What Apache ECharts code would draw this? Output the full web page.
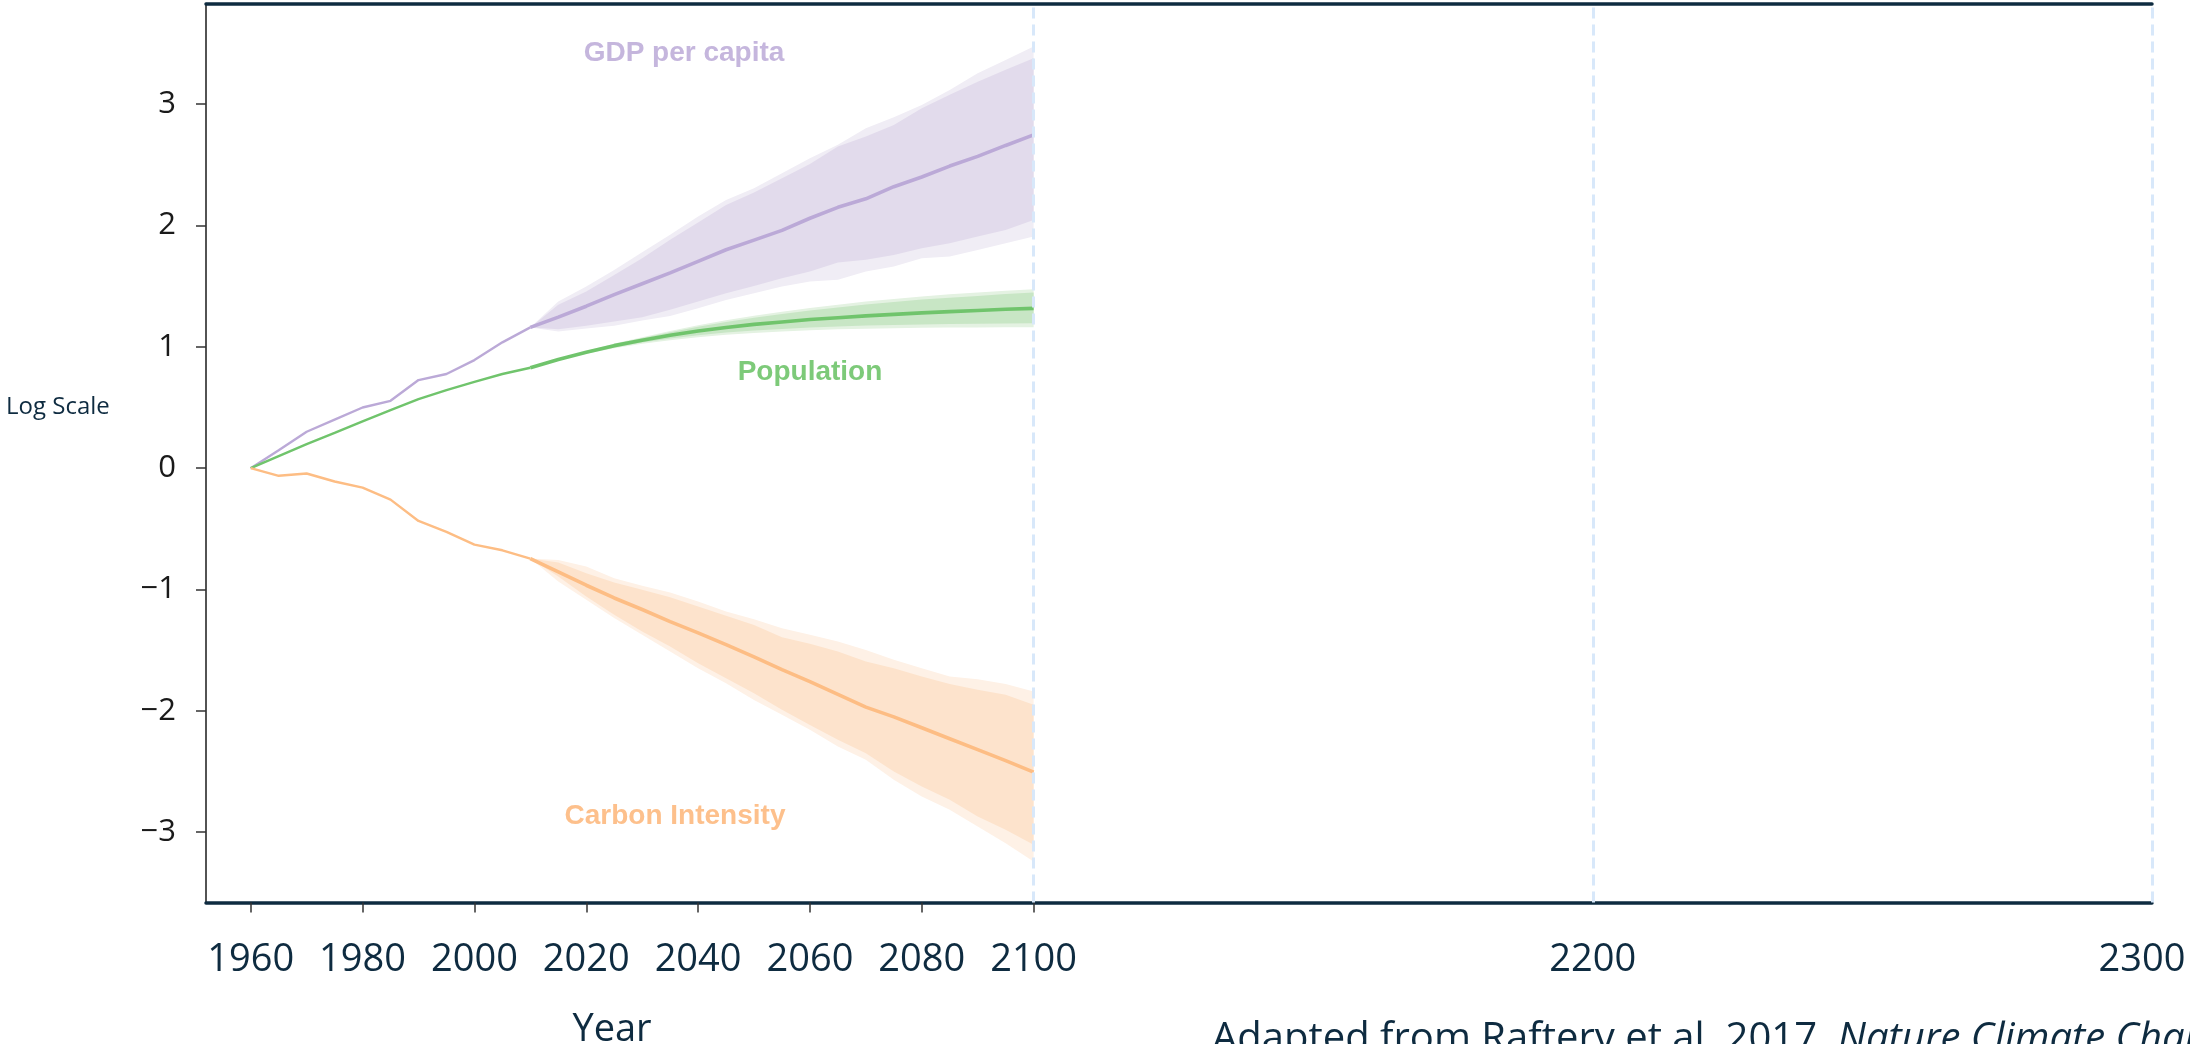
<!DOCTYPE html>
<html>
<head>
<meta charset="utf-8">
<script src="https://cdn.jsdelivr.net/npm/echarts@6/dist/echarts.min.js"></script>
<style>
html,body{margin:0;padding:0;background:#fff;}
#chart{width:2190px;height:1044px;}
</style>
</head>
<body>
<div id="chart"></div>
<script>
// ---------- data ----------
const histYears = [1960,1965,1970,1975,1980,1985,1990,1995,2000,2005,2010];
const gdpHist    = [0, 0.148, 0.30, 0.40, 0.50, 0.555, 0.726, 0.776, 0.891, 1.037, 1.16];
const popHist    = [0, 0.10, 0.198, 0.29, 0.385, 0.479, 0.569, 0.644, 0.712, 0.776, 0.828];
const carbonHist = [0, -0.063, -0.044, -0.11, -0.16, -0.259, -0.435, -0.525, -0.63, -0.677, -0.745];

const projYears = [2010,2015,2020,2025,2030,2035,2040,2045,2050,2055,2060,2065,2070,2075,2080,2085,2090,2095,2100];

const gdpMedian    = [1.16,1.245,1.335,1.43,1.52,1.61,1.705,1.80,1.88,1.96,2.06,2.15,2.22,2.32,2.40,2.49,2.57,2.66,2.747];
const gdpInnerHigh = [1.16,1.346,1.456,1.593,1.731,1.882,2.024,2.170,2.272,2.390,2.508,2.651,2.733,2.829,2.967,3.077,3.186,3.283,3.379];
const gdpOuterHigh = [1.16,1.373,1.497,1.634,1.780,1.923,2.074,2.211,2.308,2.431,2.555,2.665,2.802,2.893,2.994,3.118,3.255,3.365,3.475];
const gdpInnerLow  = [1.16,1.146,1.173,1.208,1.244,1.305,1.373,1.442,1.502,1.566,1.620,1.695,1.717,1.758,1.813,1.854,1.909,1.964,2.046];
const gdpOuterLow  = [1.16,1.126,1.151,1.173,1.217,1.255,1.319,1.387,1.442,1.497,1.538,1.552,1.620,1.662,1.731,1.744,1.799,1.854,1.909];

const popMedian    = [0.828,0.895,0.955,1.01,1.055,1.095,1.13,1.16,1.185,1.205,1.225,1.24,1.255,1.268,1.28,1.29,1.30,1.31,1.317];
const popInnerHigh = [0.828,0.897,0.962,1.022,1.072,1.12,1.165,1.205,1.24,1.27,1.30,1.325,1.35,1.37,1.39,1.405,1.42,1.435,1.447];
const popOuterHigh = [0.828,0.898,0.966,1.028,1.08,1.13,1.178,1.22,1.257,1.29,1.32,1.347,1.373,1.395,1.415,1.433,1.448,1.462,1.474];
const popInnerLow  = [0.828,0.893,0.948,0.995,1.035,1.068,1.095,1.118,1.135,1.148,1.16,1.168,1.175,1.18,1.185,1.188,1.19,1.192,1.194];
const popOuterLow  = [0.828,0.892,0.944,0.988,1.025,1.055,1.08,1.10,1.115,1.127,1.137,1.144,1.15,1.154,1.157,1.159,1.16,1.161,1.161];

const carbonMedian    = [-0.745,-0.855,-0.965,-1.07,-1.165,-1.265,-1.357,-1.455,-1.555,-1.66,-1.76,-1.865,-1.97,-2.05,-2.14,-2.23,-2.32,-2.41,-2.506];
const carbonInnerHigh = [-0.745,-0.778,-0.866,-0.943,-1.003,-1.063,-1.141,-1.217,-1.292,-1.393,-1.448,-1.511,-1.594,-1.649,-1.717,-1.778,-1.827,-1.868,-1.951];
const carbonOuterHigh = [-0.745,-0.756,-0.811,-0.907,-0.970,-1.025,-1.100,-1.182,-1.245,-1.319,-1.374,-1.429,-1.498,-1.580,-1.649,-1.717,-1.739,-1.778,-1.841];
const carbonInnerLow  = [-0.745,-0.893,-1.058,-1.209,-1.347,-1.470,-1.607,-1.731,-1.855,-1.992,-2.116,-2.239,-2.349,-2.501,-2.624,-2.734,-2.872,-2.981,-3.105];
const carbonOuterLow  = [-0.745,-0.935,-1.085,-1.236,-1.374,-1.511,-1.649,-1.772,-1.910,-2.033,-2.157,-2.295,-2.404,-2.569,-2.707,-2.816,-2.954,-3.091,-3.242];

const xLabelValues = [1960,1980,2000,2020,2040,2060,2080,2100,2200,2300];
const xTickValues  = [1960,1980,2000,2020,2040,2060,2080,2100];
const yTickValues  = [-3,-2,-1,0,1,2,3];
const refLineYears = [2100,2200,2300];

const seriesLabels = ['GDP per capita','Population','Carbon Intensity'];

// ---------- helpers ----------
const NAVY = '#0e2b40';

// band drawn as one polygon from the series' own data, through the axis scales
function band(id, low, high, color, z) {
  return {
    type:'custom', id:id, silent:true, z:z,
    data: projYears.map((y, i) => [y, low[i], high[i]]),
    encode:{x:0, y:[1,2]},
    renderItem: function (params, api) {
      if (params.dataIndexInside !== 0) return null;
      const n = params.dataInsideLength;
      const top = [], bot = [];
      for (let i = 0; i < n; i++) {
        const x = api.value(0, i);
        bot.push(api.coord([x, api.value(1, i)]));
        top.push(api.coord([x, api.value(2, i)]));
      }
      return { type:'polygon', shape:{points: top.concat(bot.reverse())},
               style:{fill:color, stroke:null} };
    }
  };
}
const pairs = (xs, ys) => xs.map((x, i) => [x, ys[i]]);
function line(id, xs, ys, color, width, z, extra) {
  return Object.assign({ type:'line', id:id, data: pairs(xs, ys), symbol:'none', silent:true,
    lineStyle:{color:color, width:width}, z:z }, extra || {});
}

const C = {
  gdp:   {line:'#bba9d7', inner:'#e2dbec', outer:'#f0edf5', label:'#c5b6dd'},
  pop:   {line:'#70c46c', inner:'#c8e6c5', outer:'#e4f2e2', label:'#7dca79'},
  carb:  {line:'#fdbd84', inner:'#fde3cc', outer:'#fef1e6', label:'#fdc08c'}
};

const series = [
  band('gdpOuter', gdpOuterLow, gdpOuterHigh, C.gdp.outer, 1),
  band('popOuter', popOuterLow, popOuterHigh, C.pop.outer, 1),
  band('carbOuter', carbonOuterLow, carbonOuterHigh, C.carb.outer, 1),
  band('gdpInner', gdpInnerLow, gdpInnerHigh, C.gdp.inner, 2),
  band('popInner', popInnerLow, popInnerHigh, C.pop.inner, 2),
  band('carbInner', carbonInnerLow, carbonInnerHigh, C.carb.inner, 2),
  line('gdpHist', histYears, gdpHist, C.gdp.line, 2.4, 3),
  line('popHist', histYears, popHist, C.pop.line, 2.4, 3),
  line('carbHist', histYears, carbonHist, C.carb.line, 2.4, 3),
  line('gdpMed', projYears, gdpMedian, C.gdp.line, 3.6, 4),
  line('popMed', projYears, popMedian, C.pop.line, 3.6, 4),
  line('carbMed', projYears, carbonMedian, C.carb.line, 3.6, 4, {
    markLine: {
      silent:true, symbol:['none','none'], label:{show:false},
      lineStyle:{color:'#d8e8fa', width:3, type:[11,6]},
      data: refLineYears.map(x => ({xAxis:x}))
    }
  })
];

function txt(text, x, y, font, fill, align) {
  return { type:'text', x:x, y:y, silent:true, z:100,
    style:{ text:text, font:font, fill:fill, align:align||'center', verticalAlign:'middle',
            textAlign:align||'center', textVerticalAlign:'middle' } };
}

const option = {
  animation:false,
  backgroundColor:'#ffffff',
  grid:{left:206, right:38, top:3.5, bottom:141.5},
  xAxis:[
    { type:'value', min:1952, max:2300, position:'bottom',
      axisLine:{show:true, onZero:false, lineStyle:{color:NAVY, width:3.5}},
      axisTick:{show:true, customValues:xTickValues, length:10, lineStyle:{color:'#333', width:1.5}},
      axisLabel:{show:true, customValues:xLabelValues, margin:39, fontSize:38, fontFamily:'Open Sans',
                 color:NAVY,
                 formatter: v => (v === 2300 ? '{r|' + v + '}' : String(v)),
                 rich:{ r:{fontSize:38, fontFamily:'Open Sans', color:NAVY, padding:[0,20,0,0]} } },
      splitLine:{show:false} },
    { type:'value', min:1952, max:2300, position:'top',
      axisLine:{show:true, onZero:false, lineStyle:{color:NAVY, width:3.5}},
      axisTick:{show:false}, axisLabel:{show:false}, splitLine:{show:false} }
  ],
  yAxis:{ type:'value', min:-3.58, max:3.83,
    axisLine:{show:true, onZero:false, lineStyle:{color:'#1a1a1a', width:1.5}},
    axisTick:{show:true, customValues:yTickValues, length:10, lineStyle:{color:'#333', width:1.5}},
    axisLabel:{show:true, customValues:yTickValues, margin:30, fontSize:31, fontFamily:'Open Sans',
               color:'#1a1a1a', formatter: v => String(v).replace('-', '\u2212')},
    splitLine:{show:false} },
  series: series,
  graphic:[
    txt('Log Scale', 6, 407, '24px "Open Sans"', NAVY, 'left'),
    txt(seriesLabels[0], 684, 53, 'bold 28px "Liberation Sans"', C.gdp.label),
    txt(seriesLabels[1], 810, 372, 'bold 28px "Liberation Sans"', C.pop.label),
    txt(seriesLabels[2], 675, 816, 'bold 28px "Liberation Sans"', C.carb.label),
    txt('Year', 612, 1030, '38px "Open Sans"', NAVY),
    { type:'text', x:1212, y:1040, silent:true, z:100,
      style:{ text:'{n|Adapted from Raftery et al. 2017, }{i|Nature Climate Change}',
              align:'left', verticalAlign:'middle', textAlign:'left', textVerticalAlign:'middle',
              rich:{ n:{font:'40px "Open Sans"', fill:NAVY, color:NAVY},
                     i:{font:'italic 40px "Open Sans"', fill:NAVY, color:NAVY, fontStyle:'italic'} } } }
  ]
};

const chart = echarts.init(document.getElementById('chart'), null, {renderer:'canvas'});
chart.setOption(option);
</script>
</body>
</html>
